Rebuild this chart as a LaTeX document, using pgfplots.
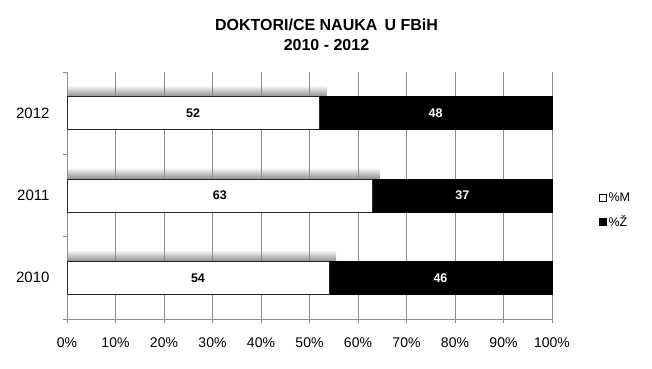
\documentclass[border=0pt]{standalone}
\usepackage{fontspec}
\setmainfont{Liberation Sans}
\usepackage{pgfplots}
\pgfplotsset{compat=1.18}
\begin{document}
\begin{tikzpicture}
\useasboundingbox (-67bp,-50bp) rectangle (585bp,319bp);
% shadows above the white bars
\begin{axis}[scale only axis, width=485bp, height=247bp,
  xmin=0, xmax=100, ymin=-0.5, ymax=2.5, hide axis,
  every axis plot/.append style={xbar, bar width=0.14, bar shift=0.27, draw=none,
  top color=white, bottom color=black!45}]
\addplot coordinates {(55.5,0)};
\addplot coordinates {(64.5,1)};
\addplot coordinates {(53.5,2)};
\end{axis}
% main bars
\begin{axis}[scale only axis, width=485bp, height=247bp,
  xmin=0, xmax=100, ymin=-0.5, ymax=2.5,
  xbar stacked, bar width=0.4,
  axis lines=left, axis line style={-, draw=gray!90, line width=0.7bp},
  tick align=outside, major tick length=4bp,
  tick style={draw=gray!90, line width=0.7bp},
  xtick={0,10,...,100},
  xticklabel={\pgfmathprintnumber{\tick}\%},
  /pgf/number format/assume math mode=true,
  xticklabel style={font=\fontsize{14bp}{17bp}\selectfont, yshift=-11bp},
  xmajorgrids=true, grid style={draw=gray!90, line width=0.7bp},
  ytick={-0.5,0.5,1.5,2.5}, yticklabels={},
  extra y ticks={0,1,2}, extra y tick labels={2010,2011,2012},
  extra y tick style={major tick length=0pt},
  yticklabel style={font=\fontsize{15bp}{18bp}\selectfont, xshift=-14bp},
  clip=false]
\addplot[fill=white, draw=black!85, line width=0.8bp]
  coordinates {(54,0) (63,1) (52,2)};
\addplot[fill=black, draw=black, line width=0.8bp]
  coordinates {(46,0) (37,1) (48,2)};
\end{axis}
% value labels and legend
\begin{axis}[scale only axis, width=485bp, height=247bp,
  xmin=0, xmax=100, ymin=-0.5, ymax=2.5, hide axis, clip=false,
  legend style={at={(axis description cs:1.09,0.44)}, anchor=west,
    draw=none, fill=none, font=\fontsize{12.5bp}{14bp}\selectfont,
    row sep=9bp, legend cell align=left}]
\addlegendimage{legend image code/.code={\draw[fill=white, draw=black, line width=0.7bp] (0bp,-3.5bp) rectangle (7bp,3.5bp);}}
\addlegendentry{\%M}
\addlegendimage{legend image code/.code={\draw[fill=black, draw=black, line width=0.7bp] (0bp,-3.5bp) rectangle (7bp,3.5bp);}}
\addlegendentry{\%Ž}
\addplot[forget plot, draw=none, mark=none, point meta=explicit symbolic,
  nodes near coords, nodes near coords style={anchor=center, text=black,
  font=\bfseries\fontsize{12.5bp}{14bp}\selectfont}]
  table[x=x, y=y, meta=v] {
x y v
27 0 54
31.5 1 63
26 2 52
};
\addplot[forget plot, draw=none, mark=none, point meta=explicit symbolic,
  nodes near coords, nodes near coords style={anchor=center, text=white,
  font=\bfseries\fontsize{12.5bp}{14bp}\selectfont}]
  table[x=x, y=y, meta=v] {
x y v
77 0 46
81.5 1 37
76 2 48
};
\end{axis}
\node[align=center, font=\bfseries\fontsize{16bp}{20bp}\selectfont]
  at (259.5bp,284bp) {DOKTORI/CE NAUKA\, U FBiH\\2010 - 2012};
\end{tikzpicture}
\end{document}
